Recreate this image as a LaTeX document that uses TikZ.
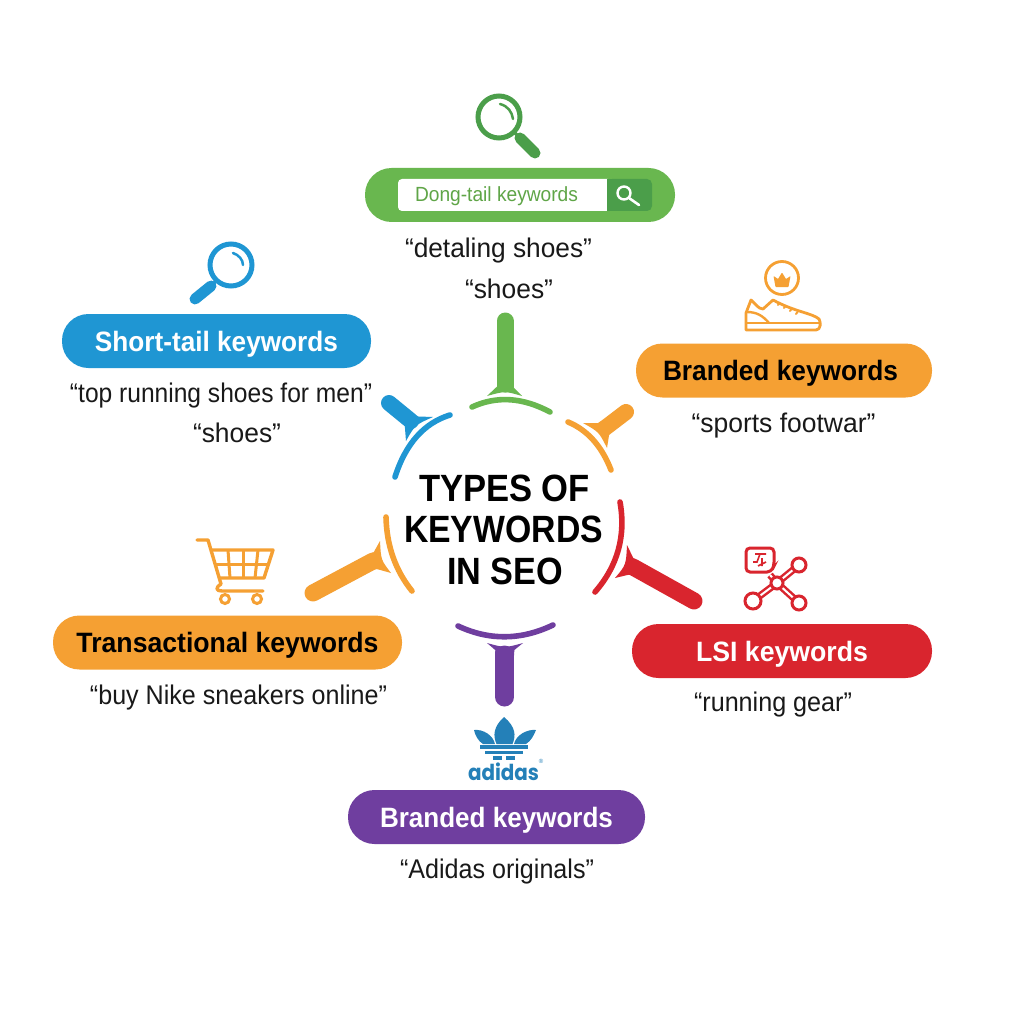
\documentclass[tikz,border=0pt]{standalone}
\usepackage{fontspec}
\usepackage{graphicx}
\usetikzlibrary{calc}
\setmainfont{Liberation Sans}
\newfontfamily\logofont{Poppins}
\definecolor{cgreen}{HTML}{69B74F}
\definecolor{cgreend}{HTML}{4B9E4A}
\definecolor{cblue}{HTML}{1F96D3}
\definecolor{corange}{HTML}{F5A033}
\definecolor{cred}{HTML}{D9252E}
\definecolor{cpurple}{HTML}{6F3E9F}
\definecolor{cadi}{HTML}{2480B8}
\newcommand{\fitw}[3]{\resizebox{#1pt}{\height}{\fontsize{#2}{#2}\selectfont #3}}
\newcommand{\spokeshape}[8]{%
  % colour, shaft width, free, neck, flare a, flare b, apex, base bend
  \fill[#1] (#5) -- (#7) -- (#6) .. controls (#8) .. (#5) -- cycle;
  \draw[#1,line width=#2pt,line cap=round] (#3) -- (#4);
  \draw[#1,line width=#2pt] (#4) -- ($(#4)!0.85!(#8)$);
}
\newcommand{\bowarc}[4]{%
  \draw[line width=5.6pt,line cap=round,draw=#1] (#2) .. controls ($(#2)!0.667!(#4)$) and ($(#3)!0.667!(#4)$) .. (#3);
}
\tikzset{
  pill/.style={rounded corners=26.5pt,inner sep=0pt,minimum height=54pt,text height=20pt,text depth=0pt},
  sub/.style={anchor=base,inner sep=0pt,text=black!90}
}
\begin{document}
\begin{tikzpicture}[x=1pt,y=-1pt]
\useasboundingbox[fill=white] (0,0) rectangle (1024,1024);

% title
\node[anchor=base,inner sep=0pt] (t1) at (504.5,501) {\fitw{171}{38}{\bfseries TYPES OF}};
\node[anchor=base,inner sep=0pt] (t2) at (503.5,542) {\fitw{199}{38}{\bfseries KEYWORDS}};
\node[anchor=base,inner sep=0pt] (t3) at (505,584) {\fitw{116}{38}{\bfseries IN SEO}};

% spokes
\coordinate (gf) at (505,321); \coordinate (gn) at (505,384);
\coordinate (bf) at (389,403); \coordinate (bn) at (411,421);
\coordinate (of) at (626,412); \coordinate (on) at (605,428);
\coordinate (lf) at (313,593); \coordinate (ln) at (373,561);
\coordinate (rf) at (694,601); \coordinate (rn) at (633,567);
\coordinate (pf) at (504.5,697); \coordinate (pn) at (504.5,655);

\spokeshape{cgreen}{17}{gf}{gn}{487,396}{522,396}{505,379}{505,391}
\spokeshape{cblue}{16}{bf}{bn}{433,417}{406,441}{404,416}{415,425}
\spokeshape{corange}{16}{of}{on}{583,423}{607,448}{611,423}{599,432}
\spokeshape{corange}{17}{lf}{ln}{380,541}{391,573}{366,566}{381,560}
\spokeshape{cred}{17}{rf}{rn}{627,545}{615,578}{640,572}{626,565}
\spokeshape{cpurple}{19}{pf}{pn}{487,643}{523,643}{504.5,658}{505,648}

\bowarc{cgreen}{472,407}{550,412}{509,390}
\bowarc{cblue}{450,415}{395,477}{411,427}
\bowarc{corange}{568,422}{611,470}{597,434}
\bowarc{cred}{620,502}{595,592}{629,553}
\bowarc{corange}{386,517}{412,591}{387,560}
\bowarc{cpurple}{458,626}{553,625}{505,648}

% green
\node[pill,fill=cgreen,minimum width=310pt] (gp) at (520,195) {};
\fill[white,rounded corners=4pt] (398,179) -- (612,179) -- (612,211) -- (398,211) -- cycle;
\fill[cgreend,rounded corners=5pt] (607,179) -- (652,179) -- (652,211) -- (607,211) -- cycle;
\fill[cgreend] (607,179) rectangle (615,211);
\node[anchor=base,inner sep=0pt,text=cgreen!90!black] (gt) at (496.5,202) {\fitw{163}{20.5}{Dong-tail keywords}};
\draw[white,line width=2.4pt] (624,193) circle (6.5);
\draw[white,line width=2.6pt,line cap=round] (629,198) -- (639,205);
\node[sub] (g1) at (498.5,257) {\fitw{187}{27}{“detaling shoes”}};
\node[sub] (g2) at (509,298) {\fitw{88}{27}{“shoes”}};
\draw[cgreend,line width=5pt] (499,117) circle (21);
\draw[cgreend,line width=2.5pt,line cap=round] (500,104) .. controls (508,106) and (512,112) .. (513,119);
\draw[cgreend,line width=3.5pt] (514,132) -- (519,137);
\draw[cgreend,line width=11pt,line cap=round] (520,138) -- (535,153);

% blue
\node[pill,fill=cblue,minimum width=309pt,text=white] (bp) at (216.5,341) {\fitw{243}{28}{\bfseries Short-tail keywords}};
\node[sub] (b1) at (221,402) {\fitw{302}{27}{“top running shoes for men”}};
\node[sub] (b2) at (237,442) {\fitw{88}{27}{“shoes”}};
\draw[cblue,line width=5pt] (231,265) circle (21);
\draw[cblue,line width=2.5pt,line cap=round] (233,253) .. controls (239,255) and (243,260) .. (243,265);
\draw[cblue,line width=3.5pt] (216,281) -- (212,285);
\draw[cblue,line width=11pt,line cap=round] (211,286) -- (195,299);

% orange right
\node[pill,fill=corange,minimum width=296pt] (op) at (784,370.5) {\hspace*{-7pt}\fitw{235}{28}{\bfseries Branded keywords}};
\node[sub] (o1) at (783.5,432) {\fitw{184}{27}{“sports footwar”}};
\draw[corange,line width=2.8pt] (782,278) circle (16.5);
\fill[corange,rounded corners=0.6pt] (773.5,276) -- (778,279) -- (782,272.5) -- (786,279) -- (790.5,276) -- (788.5,287) -- (775.5,287) -- cycle;
\draw[corange,line width=2.8pt,line join=round,line cap=round]
  (751,300) .. controls (748,306) .. (746,313) -- (746,330) -- (816,330) .. controls (821,330) and (821,322) .. (819,319)
  .. controls (812,313) and (795,312) .. (773,300) -- (763,309) .. controls (758,309) and (755,303) .. (751,300) -- cycle;
\draw[corange,line width=2.4pt,line cap=round] (746,323) -- (820,323);
\draw[corange,line width=2.4pt,line cap=round] (747,312) .. controls (757,312) and (763,316) .. (769,323);
\foreach \a/\b in {778/305,784/308,790/311,796/314}
  \draw[corange,line width=2pt,line cap=round] (\a,\b) -- ++(1.5,-2);

% red
\node[pill,fill=cred,minimum width=300pt,text=white] (rp) at (782,651) {\fitw{172}{28}{\bfseries LSI keywords}};
\node[sub] (r1) at (773,711) {\fitw{158}{27}{“running gear”}};
\foreach \qx/\qy in {799/565,753/601,799/603,770/575}{
  \draw[cred,line width=7pt] (777,583) -- (\qx,\qy);
  \draw[white,line width=2pt] (777,583) -- (\qx,\qy);
}
\draw[cred,line width=3pt,fill=white,rounded corners=4pt] (746,548) -- (774,548) -- (774,566) -- (771,572) -- (746,572) -- cycle;
\draw[cred,line width=1.6pt] (755,554) -- (766,554) (760,554) -- (757,562) -- (753,562) (762,558) -- (762,566) (766,562) -- (758,566);
\draw[cred,line width=3pt,fill=white] (777,583) circle (6);
\draw[cred,line width=3pt,fill=white] (799,565) circle (7);
\draw[cred,line width=3pt,fill=white] (753,601) circle (8);
\draw[cred,line width=3pt,fill=white] (799,603) circle (7);

% orange left
\node[pill,fill=corange,minimum width=349pt] (tp) at (227.5,642.5) {\fitw{302}{28}{\bfseries Transactional keywords}};
\node[sub] (t4) at (238.5,704) {\fitw{297}{27}{“buy Nike sneakers online”}};
\draw[corange,line width=3.4pt,line cap=round,line join=round]
  (197,540) -- (208,540) -- (221,584) .. controls (215,588) and (216,591) .. (222,591) -- (263,591);
\draw[corange,line width=3.4pt,line join=round] (212,550) -- (273,550) -- (264,578) -- (219,578);
\draw[corange,line width=3pt] (216,564) -- (269,564);
\foreach \a/\b in {228/230,243/243,258/255}
  \draw[corange,line width=3pt] (\a,550) -- (\b,578);
\draw[corange,line width=3pt] (225,599) circle (4.5) (257,599) circle (4.5);

% purple
\node[pill,fill=cpurple,minimum width=297pt,text=white] (pp) at (496.5,817) {\fitw{233}{28}{\bfseries Branded keywords}};
\node[sub] (p1) at (497,878) {\fitw{194}{27}{“Adidas originals”}};
\fill[cadi] (504,717) .. controls (493,727) and (493,736) .. (496.5,744) -- (512.5,744) .. controls (516,736) and (516,727) .. (504,717) -- cycle;
\fill[cadi] (474,730) .. controls (483,729) and (493,735) .. (495,744) -- (483,744) .. controls (478,741) and (475,735) .. (474,730) -- cycle;
\fill[cadi] (536,730) .. controls (527,729) and (516,735) .. (514,744) -- (526,744) .. controls (531,741) and (534,735) .. (536,730) -- cycle;
\draw[cadi,line width=3.3pt] (480,747) -- (528,747) (485,752.5) -- (523,752.5);
\draw[cadi,line width=3.3pt] (493,758) -- (502,758) (506,758) -- (515,758);
\node[anchor=base,inner sep=0pt,text=cadi] (ad) at (503.5,780) {\fitw{71}{22}{\logofont\bfseries adidas}};
\node[anchor=base,inner sep=0pt,text=cadi,font=\fontsize{6}{6}\selectfont] (adr) at (541,763) {®};
\end{tikzpicture}
\end{document}
